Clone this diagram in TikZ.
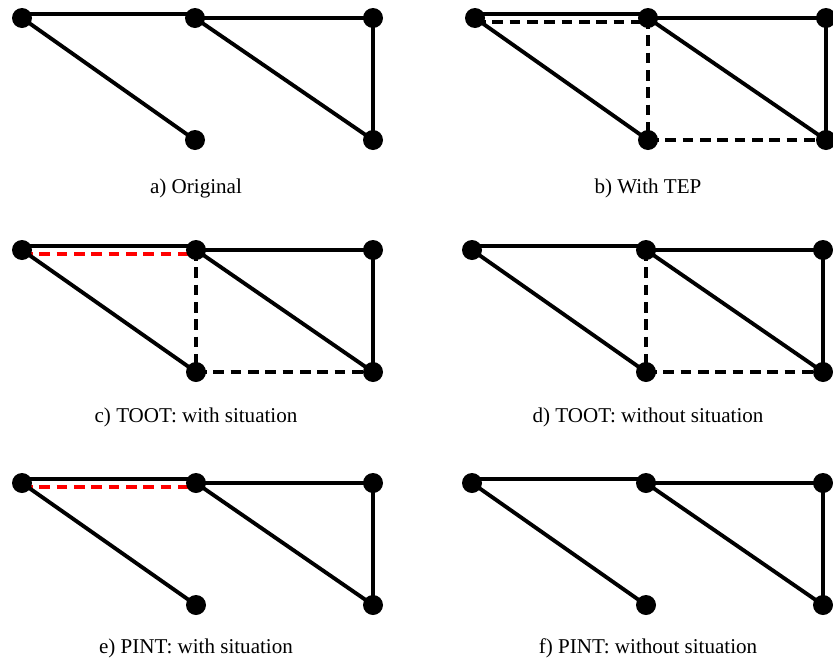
\documentclass[tikz,border=0pt]{standalone}
\usepackage{fontspec}
\setmainfont{Liberation Serif}
\usetikzlibrary{backgrounds}
\begin{document}
\begin{tikzpicture}[x=0.75pt,y=-0.75pt,
  vtx/.style={circle,fill=black,inner sep=0pt,minimum size=15pt},
  edge/.style={line width=2.9pt},
  dedge/.style={line width=2.7pt,dash pattern=on 8pt off 5pt},
  redge/.style={dedge,red},
  up/.style={yshift=2.8pt},
  dn/.style={yshift=-3pt},
  captxt/.style={font=\fontsize{15.8}{18}\selectfont,inner sep=0pt}]
\useasboundingbox (0,0) rectangle (833,661);
\clip (0,0) rectangle (833,661);

% ---- panel a
\node[vtx] (a1) at (22,18) {};
\node[vtx] (a2) at (195,18) {};
\node[vtx] (a3) at (373,18) {};
\node[vtx] (a4) at (195,140) {};
\node[vtx] (a5) at (373,140) {};
\node[captxt] (ca) at (196,188) {a) Original};
% ---- panel b
\node[vtx] (b1) at (475,18) {};
\node[vtx] (b2) at (648,18) {};
\node[vtx] (b3) at (826,18) {};
\node[vtx] (b4) at (648,140) {};
\node[vtx] (b5) at (826,140) {};
\node[captxt] (cb) at (648,188) {b) With TEP};
% ---- panel c
\node[vtx] (c1) at (22,250) {};
\node[vtx] (c2) at (196,250) {};
\node[vtx] (c3) at (373,250) {};
\node[vtx] (c4) at (196,372) {};
\node[vtx] (c5) at (373,372) {};
\node[captxt] (cc) at (196,417) {c) TOOT: with situation};
% ---- panel d
\node[vtx] (d1) at (472,250) {};
\node[vtx] (d2) at (646,250) {};
\node[vtx] (d3) at (823,250) {};
\node[vtx] (d4) at (646,372) {};
\node[vtx] (d5) at (823,372) {};
\node[captxt] (cd) at (648,417) {d) TOOT: without situation};
% ---- panel e
\node[vtx] (e1) at (22,483) {};
\node[vtx] (e2) at (196,483) {};
\node[vtx] (e3) at (373,483) {};
\node[vtx] (e4) at (196,605) {};
\node[vtx] (e5) at (373,605) {};
\node[captxt] (ce) at (196,648) {e) PINT: with situation};
% ---- panel f
\node[vtx] (f1) at (472,483) {};
\node[vtx] (f2) at (646,483) {};
\node[vtx] (f3) at (823,483) {};
\node[vtx] (f4) at (646,605) {};
\node[vtx] (f5) at (823,605) {};
\node[captxt] (cf) at (648,648) {f) PINT: without situation};

\begin{pgfonlayer}{background}
% a
\draw[edge] ([up]a1.center) -- ([up]a2.center);
\draw[edge] (a2.center) -- (a3.center) -- (a5.center);
\draw[edge] (a2.center) -- (a5.center);
\draw[edge] (a1.center) -- (a4.center);
% b
\draw[edge] ([up]b1.center) -- ([up]b2.center);
\draw[dedge] ([dn]b1.center) -- ([dn]b2.center);
\draw[edge] (b2.center) -- (b3.center) -- (b5.center);
\draw[edge] (b2.center) -- (b5.center);
\draw[edge] (b1.center) -- (b4.center);
\draw[dedge] (b2.center) -- (b4.center);
\draw[dedge] (b4.center) -- (b5.center);
% c
\draw[edge] ([up]c1.center) -- ([up]c2.center);
\draw[redge] ([dn]c1.center) -- ([dn]c2.center);
\draw[edge] (c2.center) -- (c3.center) -- (c5.center);
\draw[edge] (c2.center) -- (c5.center);
\draw[edge] (c1.center) -- (c4.center);
\draw[dedge] (c2.center) -- (c4.center);
\draw[dedge] (c4.center) -- (c5.center);
% d
\draw[edge] ([up]d1.center) -- ([up]d2.center);
\draw[edge] (d2.center) -- (d3.center) -- (d5.center);
\draw[edge] (d2.center) -- (d5.center);
\draw[edge] (d1.center) -- (d4.center);
\draw[dedge] (d2.center) -- (d4.center);
\draw[dedge] (d4.center) -- (d5.center);
% e
\draw[edge] ([up]e1.center) -- ([up]e2.center);
\draw[redge] ([dn]e1.center) -- ([dn]e2.center);
\draw[edge] (e2.center) -- (e3.center);
\draw[edge,line width=2.4pt] (e3.center) -- (e5.center);
\draw[edge] (e2.center) -- (e5.center);
\draw[edge] (e1.center) -- (e4.center);
% f
\draw[edge] ([up]f1.center) -- ([up]f2.center);
\draw[edge] (f2.center) -- (f3.center) -- (f5.center);
\draw[edge] (f2.center) -- (f5.center);
\draw[edge] (f1.center) -- (f4.center);
\end{pgfonlayer}
\end{tikzpicture}
\end{document}
